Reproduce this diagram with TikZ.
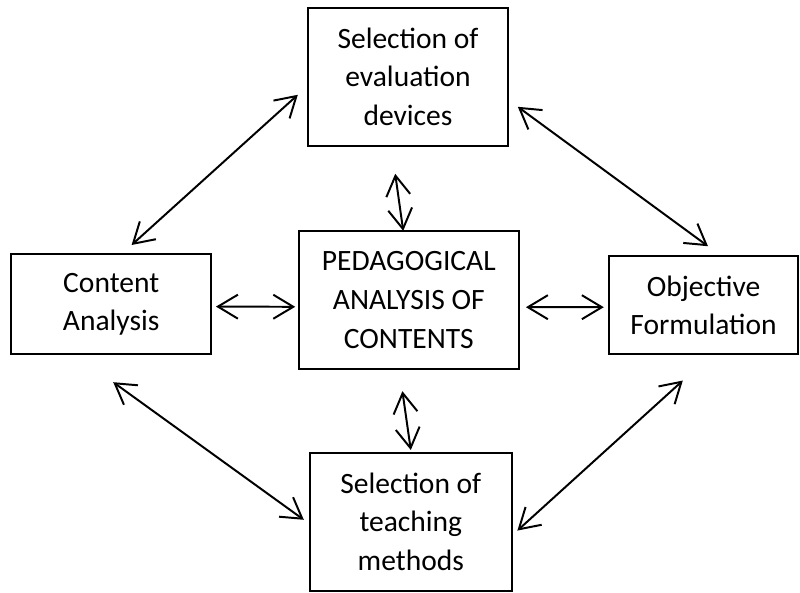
\documentclass[tikz,border=0pt]{standalone}
\usepackage{fontspec}
\setmainfont{Carlito}
\usetikzlibrary{arrows.meta}

\begin{document}
\begin{tikzpicture}[<->,>={Straight Barb[length=0.5cm,width=0.6cm]},line width=1.4pt]
  \tikzstyle{block}=[draw,rectangle,align=center,inner sep=2pt,font=\fontsize{21}{27.5}\selectfont]
  \useasboundingbox (0,0) rectangle (20,14.8);
  \node[block,minimum width=5.02cm,minimum height=3.44cm] (E) at (10.2,12.88) {Selection of\\evaluation\\devices};
  \node[block,minimum width=5.51cm,minimum height=3.45cm] (P) at (10.22,7.3) {PEDAGOGICAL\\ANALYSIS OF\\CONTENTS};
  \node[block,minimum width=5.01cm,minimum height=2.49cm] (C) at (2.78,7.195) {Content\\Analysis};
  \node[block,minimum width=4.74cm,minimum height=2.46cm] (O) at (17.59,7.17) {Objective\\Formulation};
  \node[block,minimum width=5.04cm,minimum height=3.44cm] (T) at (10.27,1.755) {Selection of\\teaching\\methods};
  \draw ([shift={(0.51,0.21)}]C.north) -- ([shift={(-0.22,-0.45)}]E.west);
  \draw ([shift={(0.21,-0.75)}]E.east) -- ([shift={(0.11,0.22)}]O.north);
  \draw ([shift={(-0.32,-0.68)}]E.south) -- ([shift={(-0.14,-0.02)}]P.north);
  \draw ([shift={(0.09,-0.06)}]C.east) -- ([shift={(-0.06,-0.17)}]P.west);
  \draw ([shift={(0.15,-0.18)}]P.east) -- ([shift={(-0.1,-0.05)}]O.west);
  \draw ([shift={(-0.16,-0.53)}]P.south) -- ([shift={(0,0.05)}]T.north);
  \draw ([shift={(0.05,-0.68)}]C.south) -- ([shift={(-0.13,0.05)}]T.west);
  \draw ([shift={(-0.52,-0.63)}]O.south) -- ([shift={(0.12,-0.22)}]T.east);
\end{tikzpicture}
\end{document}
